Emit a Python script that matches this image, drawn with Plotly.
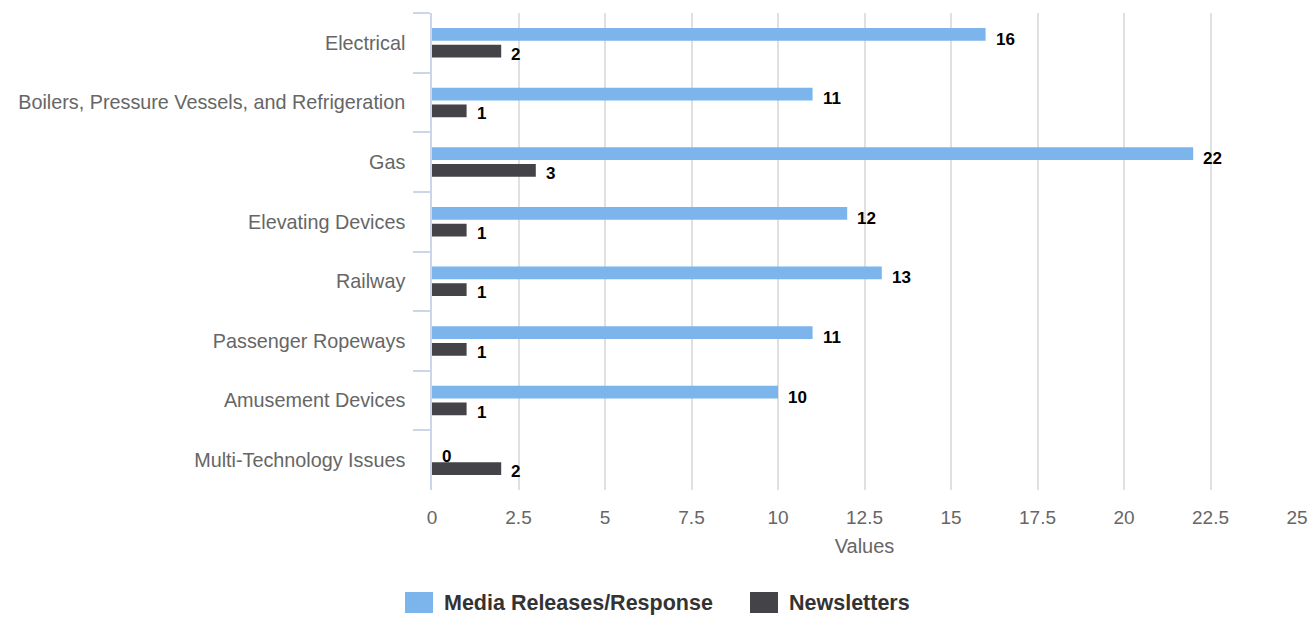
import plotly.graph_objects as go

categories = ["Electrical", "Boilers, Pressure Vessels, and Refrigeration", "Gas",
              "Elevating Devices", "Railway", "Passenger Ropeways",
              "Amusement Devices", "Multi-Technology Issues"]
media_releases = [16, 11, 22, 12, 13, 11, 10, 0]
newsletters = [2, 1, 3, 1, 1, 1, 1, 2]
series_names = ["Media Releases/Response", "Newsletters"]
series_colors = ["#7cb5ec", "#434348"]
x_ticks = [0, 2.5, 5, 7.5, 10, 12.5, 15, 17.5, 20, 22.5, 25]

FONT = "Liberation Sans, Arial, sans-serif"

fig = go.Figure()
for name, vals, col in zip(series_names, [media_releases, newsletters], series_colors):
    fig.add_trace(go.Bar(
        y=categories, x=vals, name=name, orientation="h",
        marker=dict(color=col, line=dict(width=0)),
        cliponaxis=False, showlegend=False,
    ))

# data labels (positioned through the axes' data scales, shifted as in reference)
label_yshift = [3.5, -11.5]
for vals, ys in zip([media_releases, newsletters], label_yshift):
    for cat, v in zip(categories, vals):
        fig.add_annotation(x=v, y=cat, xref="x", yref="y", text=f"<b>{v}</b>",
                           showarrow=False, xanchor="left", yanchor="middle",
                           xshift=8, yshift=ys,
                           font=dict(family=FONT, size=17, color="#000000"))

fig.update_layout(
    width=1314, height=617,
    margin=dict(l=432, r=17, t=13, b=127),
    paper_bgcolor="white", plot_bgcolor="white",
    barmode="group", bargap=0.44, bargroupgap=0.24,
    font=dict(family=FONT, color="#666666"),
    showlegend=False,
)
fig.update_xaxes(
    range=[0, 25], tickvals=x_ticks, ticktext=[f"{v:g}" for v in x_ticks],
    showgrid=True, gridcolor="#e0e0e0", gridwidth=2,
    zeroline=False, showline=False, automargin=False,
    tickfont=dict(size=19, color="#666666"),
    ticklabelstandoff=14,
    title=dict(text="Values", font=dict(size=20, color="#666666"), standoff=11),
)
fig.update_yaxes(
    categoryorder="array", categoryarray=categories, autorange="reversed",
    showgrid=False, zeroline=False, automargin=False,
    showline=True, linecolor="#ccd6eb", linewidth=1.5,
    ticks="outside", tickson="boundaries", ticklen=17, tickcolor="#ccd6eb", tickwidth=1.5,
    tickfont=dict(size=19.8, color="#666666"),
    ticklabelstandoff=21,
)

# legend drawn manually (large swatches as in reference)
H = 477.0
W = 865.0
def px_x(p):
    return (p - 432) / W
def px_y(p):
    return (490 - p) / H

legend_items = [(405, 433, 442), (750, 778, 787)]
for (x0, x1, tx), name, col in zip(legend_items, series_names, series_colors):
    fig.add_shape(type="rect", xref="paper", yref="paper",
                  x0=px_x(x0), x1=px_x(x1), y0=px_y(613), y1=px_y(592),
                  fillcolor=col, line=dict(width=0))
    fig.add_annotation(xref="paper", yref="paper", x=px_x(tx), y=px_y(603),
                       xanchor="left", yanchor="middle", showarrow=False,
                       text=f"<b>{name}</b>",
                       font=dict(family=FONT, size=21.5, color="#333333"))

fig.write_html("out.html", config={"displayModeBar": False},
               post_script="document.body.style.margin='0px';")
